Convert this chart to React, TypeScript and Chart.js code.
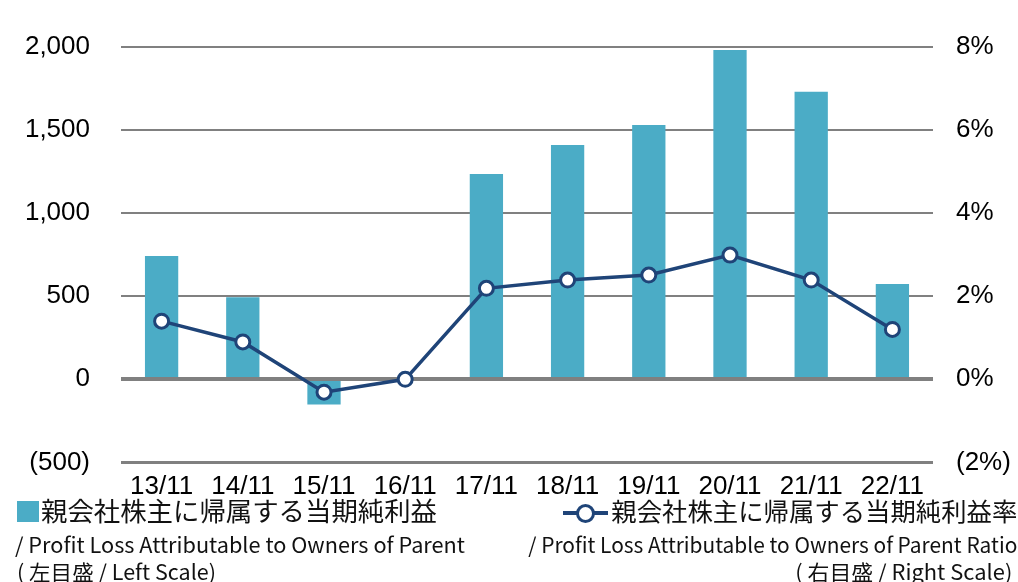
import React, { useEffect, useLayoutEffect, useRef } from "react";
import { Chart, registerables } from "chart.js";

Chart.register(...registerables);

const categories = ["13/11", "14/11", "15/11", "16/11", "17/11", "18/11", "19/11", "20/11", "21/11", "22/11"];
const profitValues = [742, 494, -151, 0, 1236, 1410, 1530, 1982, 1730, 573];
const ratioValues = [1.4, 0.9, -0.31, 0.0, 2.19, 2.39, 2.51, 2.99, 2.39, 1.2];

const leftMin = -500;
const leftMax = 2000;
const leftStep = 500;
const rightMin = -2;
const rightMax = 8;
const rightStep = 2;

const legendBarJa = "親会社株主に帰属する当期純利益";
const legendBarEn = "/ Profit Loss Attributable to Owners of Parent";
const legendBarScale = "( 左目盛 / Left Scale)";
const legendLineJa = "親会社株主に帰属する当期純利益率";
const legendLineEn = "/ Profit Loss Attributable to Owners of Parent Ratio";
const legendLineScale = "( 右目盛 / Right Scale)";

const TEAL = "#4BACC6";
const NAVY = "#1F4478";
const GRID = "#808080";
const TICK_FONT = { family: "'Liberation Sans', Arial, sans-serif", size: 26 };
const LEGEND_FONT = "'Noto Sans CJK JP', 'Noto Sans', sans-serif";

const fmtLeft = (v: number) =>
  v < 0 ? `(${Math.abs(v).toLocaleString("en-US")})` : v.toLocaleString("en-US");
const fmtRight = (v: number) => (v < 0 ? `(${Math.abs(v)}%)` : `${v}%`);

function hLine(chart: any, value: number, width: number, shift: number) {
  const y = Math.round(chart.scales.y.getPixelForValue(value)) + shift;
  const { left, right } = chart.chartArea;
  const ctx = chart.ctx;
  ctx.save();
  ctx.strokeStyle = GRID;
  ctx.lineWidth = width;
  ctx.beginPath();
  ctx.moveTo(left, y);
  ctx.lineTo(right, y);
  ctx.stroke();
  ctx.restore();
}

const LEG_TOP = 488;

export default function App() {
  const canvasRef = useRef<HTMLCanvasElement | null>(null);
  const rootRef = useRef<HTMLDivElement | null>(null);

  useLayoutEffect(() => {
    const root = rootRef.current;
    if (!root) return;
    root.querySelectorAll<HTMLElement>("[data-fit]").forEach((el) => {
      el.style.transform = "none";
      const target = Number(el.dataset.fit);
      const w = el.getBoundingClientRect().width;
      if (w > 0) el.style.transform = `scaleX(${target / w})`;
    });
  }, []);

  useEffect(() => {
    if (!canvasRef.current) return;
    const axisLinesPlugin = {
      id: "axisLines",
      beforeDatasetsDraw(chart: any) {
        hLine(chart, leftMin, 3, 0.5);
      },
      afterDatasetDraw(chart: any, args: any) {
        if (args.index !== 1) return;
        hLine(chart, 0, 4, 0);
      },
    };
    const chart = new Chart(canvasRef.current, {
      type: "bar",
      data: {
        labels: categories,
        datasets: [
          {
            type: "line",
            data: ratioValues,
            yAxisID: "y1",
            borderColor: NAVY,
            borderWidth: 3.5,
            pointRadius: 7,
            pointBorderWidth: 3,
            pointBackgroundColor: "#ffffff",
            pointBorderColor: NAVY,
            tension: 0,
            order: 0,
          } as any,
          {
            type: "bar",
            data: profitValues,
            yAxisID: "y",
            backgroundColor: TEAL,
            categoryPercentage: 1,
            barPercentage: 0.41,
            order: 1,
          },
        ],
      },
      options: {
        animation: false,
        responsive: false,
        maintainAspectRatio: false,
        layout: { padding: { top: 47, left: 0, right: 0, bottom: 0 } },
        plugins: { legend: { display: false }, tooltip: { enabled: false } },
        scales: {
          x: {
            grid: { display: false, drawTicks: false },
            border: { display: false },
            ticks: { font: TICK_FONT, color: "#000", padding: 9, maxRotation: 0, autoSkip: false },
            afterFit: (s: any) => {
              s.height = 38;
            },
          },
          y: {
            position: "left",
            min: leftMin,
            max: leftMax,
            ticks: { stepSize: leftStep, padding: 31, font: TICK_FONT, color: "#000", callback: (v: any) => fmtLeft(Number(v)) },
            grid: { color: GRID, lineWidth: 2, drawTicks: false },
            border: { display: false },
            afterFit: (s: any) => {
              s.width = 121;
            },
          },
          y1: {
            position: "right",
            min: rightMin,
            max: rightMax,
            ticks: { stepSize: rightStep, padding: 23, font: TICK_FONT, color: "#000", callback: (v: any) => fmtRight(Number(v)) },
            grid: { display: false, drawTicks: false },
            border: { display: false },
            afterFit: (s: any) => {
              s.width = 85;
            },
          },
        },
      } as any,
      plugins: [axisLinesPlugin],
    });
    return () => chart.destroy();
  }, []);

  const line: React.CSSProperties = {
    position: "absolute",
    whiteSpace: "nowrap",
    fontFamily: LEGEND_FONT,
    color: "#111",
  };

  return (
    <div
      ref={rootRef}
      style={{ position: "absolute", left: 0, top: 0, width: 1018, height: 582, overflow: "hidden", background: "#fff" }}
    >
      <canvas ref={canvasRef} width={1018} height={509} style={{ position: "absolute", left: 0, top: 0 }} />

      <div style={{ position: "absolute", left: 0, top: LEG_TOP, width: 1018, height: 582 - LEG_TOP, overflow: "hidden" }}>
        {/* left legend */}
        <div style={{ position: "absolute", left: 17, top: 501 - LEG_TOP, width: 22, height: 21, background: TEAL }} />
        <div style={{ ...line, left: 41, top: 495 - LEG_TOP, fontSize: 26, lineHeight: "30px" }}>
          <span data-fit="396" style={{ display: "inline-block", transformOrigin: "left center" }}>{legendBarJa}</span>
        </div>
        <div style={{ ...line, left: 15, top: 530 - LEG_TOP, fontSize: 21, lineHeight: "28px" }}>
          <span data-fit="450" style={{ display: "inline-block", transformOrigin: "left center" }}>{legendBarEn}</span>
        </div>
        <div style={{ ...line, left: 17, top: 557 - LEG_TOP, fontSize: 21, lineHeight: "28px" }}>
          <span data-fit="199" style={{ display: "inline-block", transformOrigin: "left center" }}>{legendBarScale}</span>
        </div>

        {/* right legend */}
        <div style={{ position: "absolute", left: 563, top: 511 - LEG_TOP, width: 45, height: 4, background: NAVY }} />
        <div
          style={{
            position: "absolute",
            left: 576,
            top: 504 - LEG_TOP,
            width: 13,
            height: 13,
            borderRadius: "50%",
            border: `3px solid ${NAVY}`,
            background: "#fff",
          }}
        />
        <div style={{ ...line, right: 1, top: 495 - LEG_TOP, fontSize: 25.4, lineHeight: "30px" }}>
          <span data-fit="406" style={{ display: "inline-block", transformOrigin: "right center" }}>{legendLineJa}</span>
        </div>
        <div style={{ ...line, right: 1, top: 530 - LEG_TOP, fontSize: 21, lineHeight: "28px" }}>
          <span data-fit="489" style={{ display: "inline-block", transformOrigin: "right center" }}>{legendLineEn}</span>
        </div>
        <div style={{ ...line, right: 6, top: 557 - LEG_TOP, fontSize: 21, lineHeight: "28px" }}>
          <span data-fit="217" style={{ display: "inline-block", transformOrigin: "right center" }}>{legendLineScale}</span>
        </div>
      </div>
    </div>
  );
}
